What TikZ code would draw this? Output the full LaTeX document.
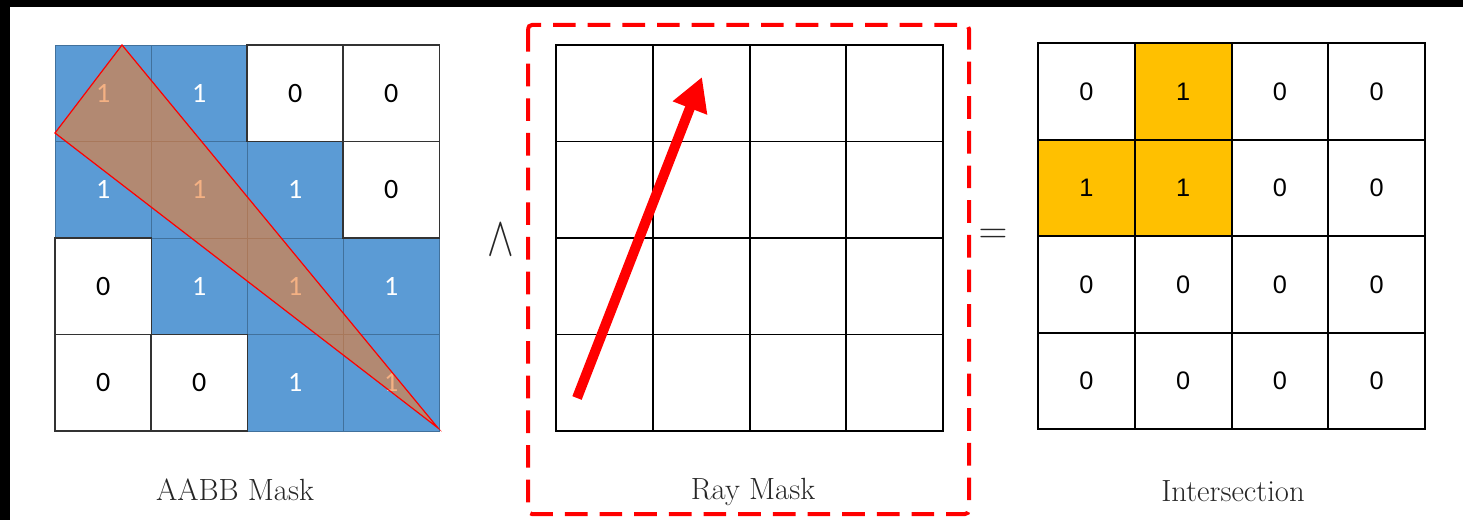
\RequirePackage{fix-cm}
\documentclass[tikz,border=0pt]{standalone}
\usepackage{fontspec}
\newfontfamily\calibrifont{Carlito}
\newfontfamily\arialfont{Liberation Sans}
\usetikzlibrary{arrows.meta}

\definecolor{maskblue}{HTML}{5B9BD5}
\definecolor{maskedge}{HTML}{41719C}
\definecolor{tribrown}{HTML}{ED7D31}
\definecolor{hitgold}{HTML}{FFC000}
\definecolor{captiongray}{HTML}{262626}

\begin{document}
\begin{tikzpicture}[x=0.75pt,y=-0.75pt,
    cell/.style={draw=black,line width=1.4pt,minimum size=72.4pt,inner sep=0pt,
      font=\arialfont\fontsize{19}{19}\selectfont},
    aabbcell/.style={cell,draw=black!80,line width=1.1pt,
      font=\calibrifont\fontsize{21}{21}\selectfont},
    fullcell/.style={aabbcell,fill=maskblue,draw=maskedge,line width=0.5pt,text=white},
    hitcell/.style={cell,fill=hitgold},
    raypen/.style={draw=red,line width=7.5pt,-{Triangle[length=25pt,width=26pt]}},
    caption/.style={anchor=base,font=\fontsize{23}{23}\selectfont,text=captiongray},
    opsign/.style={font=\fontsize{30}{30}\selectfont,text=captiongray}]

  \useasboundingbox (0,0) rectangle (1463,520);
  \fill[black] (0,0) rectangle (1463,7);
  \fill[black] (0,0) rectangle (10,520);

  % AABB mask: blue cells first, white ones on top
  \foreach \r/\c in {0/0,0/1,1/0,1/1,1/2,2/1,2/2,2/3,3/2,3/3}
    \node[fullcell] (aabb-\r-\c) at ({103.25+96*\c},{93.25+96.5*\r}) {1};
  \foreach \r/\c in {0/2,0/3,1/3,2/0,3/0,3/1}
    \node[aabbcell] (aabb-\r-\c) at ({103.25+96*\c},{93.25+96.5*\r}) {0};

  \coordinate (tri-top) at (122,45);
  \coordinate (tri-left) at (55,133);
  \coordinate (tri-right) at (438,428);
  \filldraw[fill=tribrown,fill opacity=0.6,draw=red,line width=0.9pt]
    (tri-top) -- (tri-left) -- (tri-right) -- cycle;

  \node[caption] (aabb-label) at (235,500) {AABB Mask};

  \node[opsign] (and-sign) at (501,240) {\scalebox{1}[1.4]{$\wedge$}};

  % ray mask
  \foreach \r in {0,...,3}
    \foreach \c in {0,...,3}
      \node[cell] (ray-\r-\c) at ({604.5+96.75*\c},{93.25+96.5*\r}) {};

  \coordinate (ray-tail) at (577,398);
  \coordinate (ray-tip) at (702,77);
  \draw[raypen] (ray-tail) -- (ray-tip);

  \draw[red,line width=3pt,dash pattern=on 17pt off 9pt,rounded corners=3pt]
    (528,25) rectangle (969,514);

  \node[caption] (ray-label) at (753,499) {Ray Mask};

  \node[opsign] (eq-sign) at (993,236) {$=$};

  % intersection
  \foreach \v [count=\i from 0] in {0,1,0,0, 1,1,0,0, 0,0,0,0, 0,0,0,0} {
    \pgfmathtruncatemacro\r{div(\i,4)}
    \pgfmathtruncatemacro\c{mod(\i,4)}
    \ifnum\v=1 \def\look{hitcell}\else\def\look{cell}\fi
    \node[\look] (hit-\r-\c) at ({1086.5+96.75*\c},{91.5+96.5*\r}) {\v};
  }

  \node[caption] (hit-label) at (1233,501) {Intersection};

\end{tikzpicture}
\end{document}
